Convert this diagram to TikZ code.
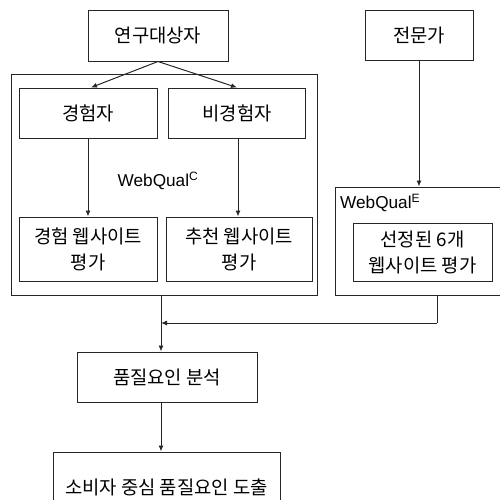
\documentclass[tikz,border=0pt]{standalone}
\usepackage{fontspec}
\setmainfont{Noto Sans CJK KR}
\newfontfamily\latinf{Liberation Sans}
\usetikzlibrary{arrows.meta,calc}
\begin{document}
\begin{tikzpicture}[x=1pt,y=-1pt,
  box/.style={draw=black!85,line width=1pt,minimum width=#1,inner sep=0pt,align=center,
    font=\fontsize{18.8}{26}\selectfont},
  cont/.style={draw=black!85,line width=1pt,inner sep=0pt},
  conn/.style={draw=black!85,line width=1pt},
  arr/.style={conn,-{Latex[length=6pt,width=5pt]}},
  lab/.style={font=\latinf\fontsize{17.2}{18}\selectfont,inner sep=0pt}]
\useasboundingbox (0,0) rectangle (500,499);
\clip (0,0) rectangle (500,499);
% containers
\node[cont,minimum width=306pt,minimum height=221pt] (lc) at (164,184.5) {};
\node[cont,minimum width=175pt,minimum height=108pt] (rc) at (422.5,241) {};
% boxes
\node[box=140pt,minimum height=51pt] (subj) at (158,35.5) {연구대상자};
\node[box=108pt,minimum height=50pt] (expt) at (419,35) {전문가};
\node[box=138pt,minimum height=50pt] (ex) at (88,113) {경험자};
\node[box=137pt,minimum height=50pt] (nex) at (237,113) {비경험자};
\node[box=138pt,minimum height=64pt] (exw) at (88,249) {경험 웹사이트\\평가};
\node[box=146pt,minimum height=64pt] (rew) at (239,249) {추천 웹사이트\\평가};
\node[box=139pt,minimum height=58pt] (sel) at (422.5,252) {선정된 6개\\웹사이트 평가};
\node[box=180pt,minimum height=50pt] (ana) at (167,377) {품질요인 분석};
\node[box=227pt,minimum height=70pt] (res) at (166.5,487) {소비자 중심 품질요인 도출};
% labels
\node[lab] (wqc) at (158,181) {WebQual\textsuperscript{C}};
\node[lab,anchor=west] (wqe) at (340,203) {WebQual\textsuperscript{E}};
% connectors
\draw[arr] (subj.south) -- ($(ex.north)+(3,0)$);
\draw[arr] (subj.south) -- (nex.north);
\draw[arr] (ex.south) -- (ex.south |- exw.north);
\draw[arr] ($(nex.south)+(1,0)$) -- ($(nex.south |- rew.north)+(1,0)$);
\draw[arr] (expt.south) -- (expt.south |- rc.north);
\coordinate (m) at (161,323);
\coordinate (rj) at (437,323);
\draw[conn] (rj |- rc.south) -- (rj);
\draw[arr] (rj) -- (m);
\draw[arr] (m |- lc.south) -- (m |- ana.north);
\draw[arr] (m |- ana.south) -- (m |- res.north);
\end{tikzpicture}
\end{document}
